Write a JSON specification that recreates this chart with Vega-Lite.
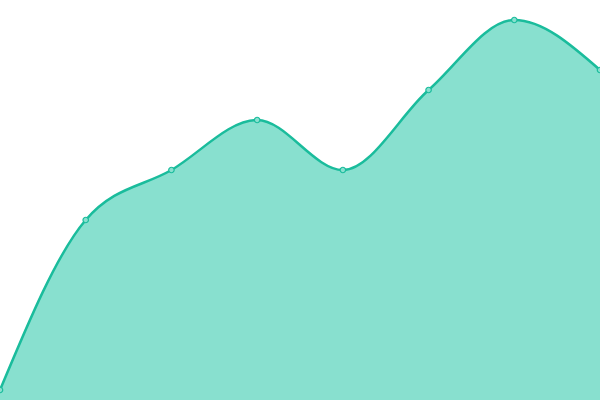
{
  "$schema": "https://vega.github.io/schema/vega-lite/v6.json",
  "width": 600,
  "height": 400,
  "autosize": {"type": "none"},
  "padding": 0,
  "background": "white",
  "config": {"view": {"stroke": null}},
  "data": {
    "values": [
      {"idx": 0, "value": 10},
      {"idx": 1, "value": 180},
      {"idx": 2, "value": 230},
      {"idx": 3, "value": 280},
      {"idx": 4, "value": 230},
      {"idx": 5, "value": 310},
      {"idx": 6, "value": 380},
      {"idx": 7, "value": 330}
    ]
  },
  "encoding": {
    "x": {
      "field": "idx",
      "type": "quantitative",
      "scale": {"domain": [0, 7], "nice": false, "zero": false},
      "axis": null
    },
    "y": {
      "field": "value",
      "type": "quantitative",
      "scale": {"domain": [0, 400], "nice": false},
      "axis": null
    }
  },
  "layer": [
    {
      "mark": {"type": "area", "interpolate": "monotone", "color": "#88e0cf"}
    },
    {
      "mark": {"type": "line", "interpolate": "monotone", "color": "#1abc9c", "strokeWidth": 2.5}
    },
    {
      "mark": {"type": "point", "filled": true, "fill": "#88e0cf", "stroke": "#1abc9c", "strokeWidth": 1.2, "size": 30, "opacity": 1}
    }
  ]
}
